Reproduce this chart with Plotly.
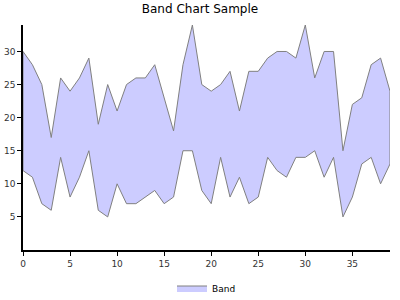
import plotly.graph_objects as go

x_vals = list(range(40))
upper = [30, 28, 25, 17, 26, 24, 26, 29, 19, 25, 21, 25, 26, 26, 28, 23, 18, 28, 34, 25,
         24, 25, 27, 21, 27, 27, 29, 30, 30, 29, 34, 26, 30, 30, 15, 22, 23, 28, 29, 24]
lower = [12, 11, 7, 6, 14, 8, 11, 15, 6, 5, 10, 7, 7, 8, 9, 7, 8, 15, 15, 9,
         7, 14, 8, 11, 7, 8, 14, 12, 11, 14, 14, 15, 11, 14, 5, 8, 13, 14, 10, 13]
x_ticks = [0, 5, 10, 15, 20, 25, 30, 35]
y_ticks = [5, 10, 15, 20, 25, 30]

poly_x = x_vals + x_vals[::-1] + [x_vals[0]]
poly_y = upper + lower[::-1] + [upper[0]]

fig = go.Figure()
fig.add_trace(go.Scatter(
    x=poly_x, y=poly_y, mode="lines", fill="toself",
    fillcolor="#ccccff", line=dict(color="#808080", width=1),
    name="Band", showlegend=True,
))

font = "DejaVu Sans, Verdana, sans-serif"
fig.update_layout(
    width=400, height=300,
    margin=dict(l=23, r=10, t=25, b=50, autoexpand=False),
    paper_bgcolor="white", plot_bgcolor="white",
    title=dict(text="Band Chart Sample", x=0.5, xanchor="center", y=0.985, yanchor="top",
               font=dict(family=font, size=12, color="#000000")),
    xaxis=dict(range=[0, 39], tickvals=x_ticks, showgrid=False, zeroline=False,
               showline=True, linecolor="#000000", linewidth=1.5, automargin=False,
               ticks="outside", ticklen=4, tickcolor="#000000",
               tickfont=dict(family=font, size=9, color="#333333")),
    yaxis=dict(range=[0, 34], tickvals=y_ticks, showgrid=False, zeroline=False,
               showline=True, linecolor="#000000", linewidth=1.5, automargin=False,
               ticks="outside", ticklen=4, tickcolor="#000000",
               tickfont=dict(family=font, size=9, color="#333333")),
    legend=dict(orientation="h", x=0.5, xanchor="center", yref="container", y=0.04,
                yanchor="middle", font=dict(family=font, size=9, color="#000000")),
    showlegend=True,
)

fig.write_html("out.html")
